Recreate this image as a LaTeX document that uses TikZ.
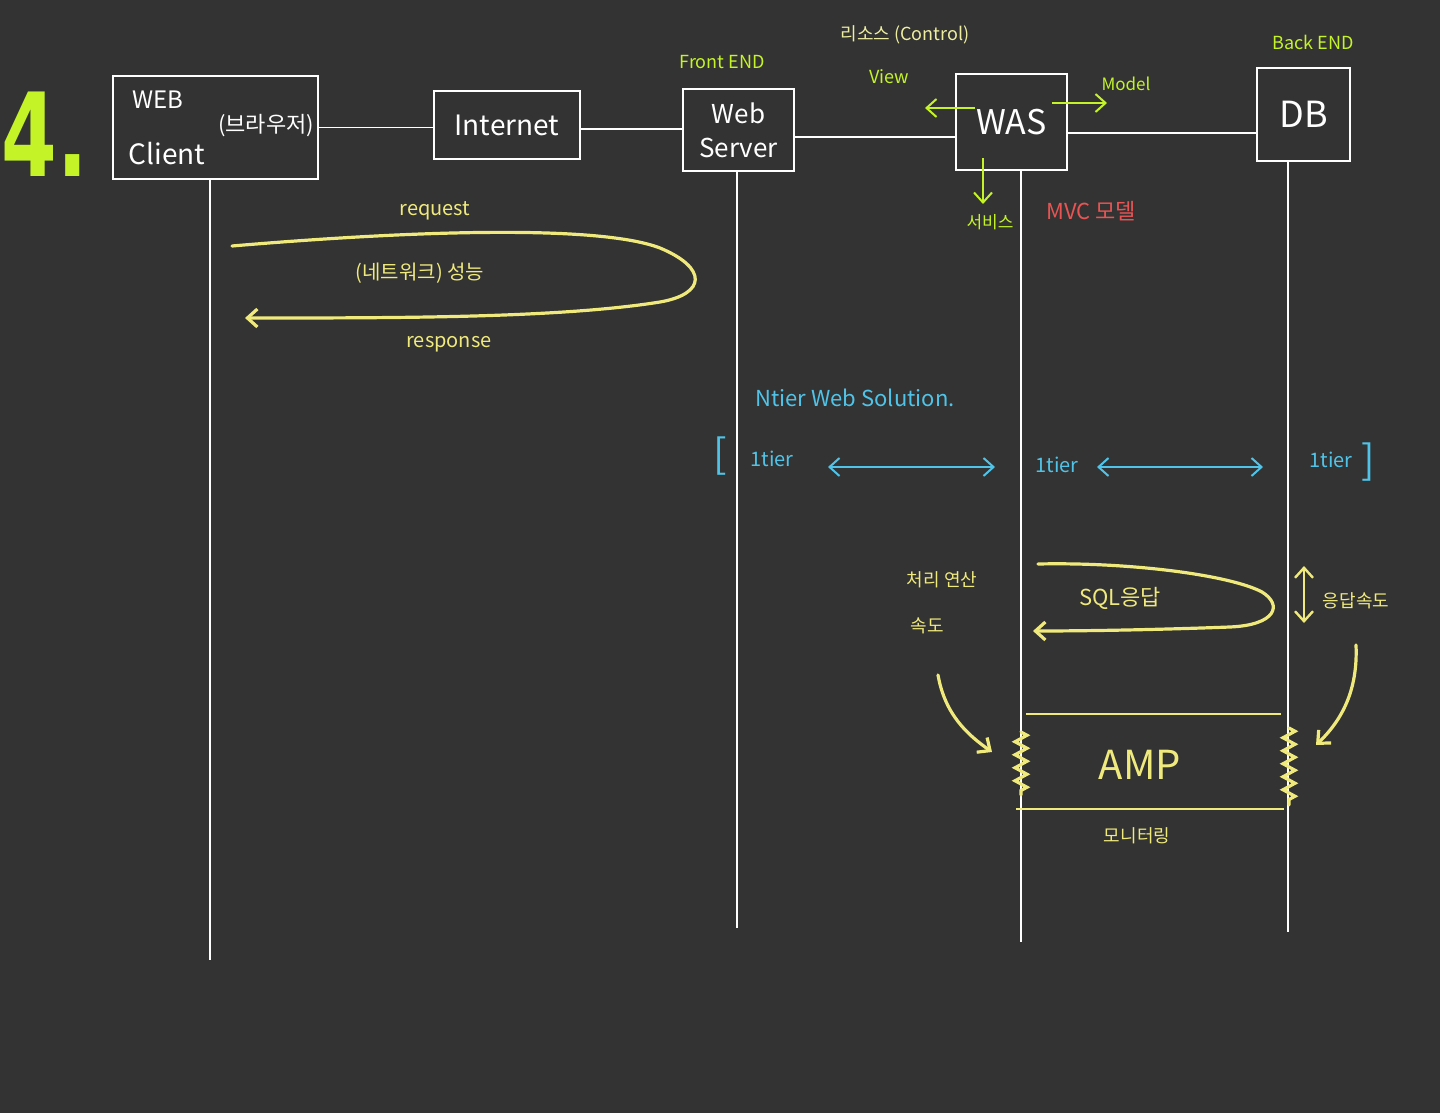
\documentclass[tikz,border=0pt]{standalone}
\usepackage{graphicx}
\usepackage{fontspec}
\setmainfont{Noto Sans CJK KR}
\newfontfamily\numfont{DejaVu Sans}
\usetikzlibrary{arrows.meta}
\usetikzlibrary{decorations.pathmorphing}

\definecolor{bgdark}{RGB}{51,51,51}
\definecolor{limegreen}{RGB}{196,244,40}
\definecolor{handyellow}{RGB}{240,234,125}
\definecolor{paleyellow}{RGB}{238,238,160}
\definecolor{tierblue}{RGB}{80,196,232}
\definecolor{mvcred}{RGB}{232,84,84}

\tikzset{
  box/.style={draw=white,line width=1pt,text=white,inner sep=0pt,align=center},
  wire/.style={white,line width=0.9pt},
  life/.style={white,line width=0.8pt},
  hand/.style={handyellow,line width=1.6pt,line cap=round},
  greenarrow/.style={limegreen,line width=1pt,->},
  tierarrow/.style={tierblue,line width=1pt,<->},
  spring/.style={hand,decorate,decoration={zigzag,segment length=6.5pt,amplitude=3pt}},
}

\begin{document}
\begin{tikzpicture}[x=0.5pt,y=-0.5pt,>={Straight Barb[length=5pt,width=9pt]}]
        % 배경
        \fill[bgdark] (0,0) rectangle (1440,1113);
        \useasboundingbox (0,0) rectangle (1440,1113);

        %------------------
        % 박스
        %------------------
        \node[limegreen,inner sep=0pt,font=\numfont\bfseries\fontsize{40}{44}\selectfont] (four) at (45,134) {\scalebox{1}[1.45]{4.}};

        \node[box,minimum width=102.5pt,minimum height=51.5pt] (client) at (215.5,127.5) {};
        \node[white,inner sep=0pt,font=\fontsize{12}{14}\selectfont] (clientA) at (158,100) {WEB};
        \node[white,inner sep=0pt,font=\fontsize{14}{16}\selectfont] (clientB) at (167,154) {Client};
        \node[white,inner sep=0pt,font=\fontsize{11}{13}\selectfont] (clientC) at (266,126) {(브라우저)};

        \node[box,minimum width=73pt,minimum height=34pt,font=\fontsize{14}{16}\selectfont] (internet) at (507,125) {Internet};
        \node[box,minimum width=55.5pt,minimum height=41pt,font=\fontsize{13}{17}\selectfont] (websrv) at (738.5,130) {Web\\Server};
        \node[box,minimum width=55.5pt,minimum height=48pt,font=\fontsize{17}{19}\selectfont] (was) at (1011.5,122) {WAS};
        \node[box,minimum width=46.5pt,minimum height=46.5pt,font=\fontsize{18}{20}\selectfont] (db) at (1303.5,114.5) {DB};

        % 연결선
        \draw[wire] (client.east) -- (client.east -| internet.west);
        \draw[wire] (internet.-3) -- (internet.-3 -| websrv.west);
        \draw[wire] (websrv.-7) -- (websrv.-7 -| was.west);
        \draw[wire] (was.-11) -- (was.-11 -| db.west);

        % 세로선
        \coordinate (clientend) at (210,960);
        \coordinate (websrvend) at (737,928);
        \coordinate (wasend) at (1021,942);
        \coordinate (dbend) at (1288,932);
        \draw[life] (client.south -| clientend) -- (clientend);
        \draw[life] (websrv.south -| websrvend) -- (websrvend);
        \draw[life] (was.south -| wasend) -- (wasend);
        \draw[life] (db.south -| dbend) -- (dbend);

        %------------------
        % 위쪽 라벨
        %------------------
        \node[limegreen,font=\fontsize{9}{11}\selectfont] (front) at (722,62) {Front END};
        \node[limegreen,font=\fontsize{9}{11}\selectfont] (back) at (1313,42) {Back END};
        \node[paleyellow,font=\fontsize{9}{11}\selectfont] (control) at (905,35) {리소스 (Control)};
        \node[limegreen,font=\fontsize{9}{11}\selectfont] (view) at (889,77) {View};
        \node[limegreen,font=\fontsize{8.5}{10}\selectfont] (model) at (1126,84) {Model};
        \node[limegreen,font=\fontsize{8.5}{10}\selectfont] (service) at (990,222) {서비스};
        \node[mvcred,font=\fontsize{11}{13}\selectfont] (mvc) at (1091,211) {MVC 모델};

        \coordinate (viewfrom) at (975,108);
        \coordinate (viewto) at (925,108);
        \coordinate (modelfrom) at (1052,103);
        \coordinate (modelto) at (1107,103);
        \coordinate (servfrom) at (983,158);
        \coordinate (servto) at (983,204);
        \draw[greenarrow] (viewfrom) -- (viewto);
        \draw[greenarrow] (modelfrom) -- (modelto);
        \draw[greenarrow] (servfrom) -- (servto);

        %------------------
        % request / response
        %------------------
        \node[handyellow,font=\fontsize{10}{12}\selectfont] (request) at (435,211) {request};
        \node[handyellow,font=\fontsize{10}{12}\selectfont] (network) at (420,273) {(네트워크) 성능};
        \node[handyellow,font=\fontsize{10}{12}\selectfont] (response) at (449,344) {response};
        \draw[hand,->] (232,246) .. controls (420,230) and (600,225) .. (660,248)
          .. controls (708,268) and (706,294) .. (660,302)
          .. controls (560,318) and (400,318) .. (245,318);

        %------------------
        % N tier
        %------------------
        \node[tierblue,font=\fontsize{11}{13}\selectfont] (ntier) at (855,398) {Ntier Web Solution.};
        \node[tierblue,font=\fontsize{20}{22}\selectfont] (lbrack) at (720,456) {[};
        \node[tierblue,font=\fontsize{10}{12}\selectfont] (tierA) at (772,459) {1tier};
        \node[tierblue,font=\fontsize{10}{12}\selectfont] (tierB) at (1057,465) {1tier};
        \node[tierblue,font=\fontsize{10}{12}\selectfont] (tierC) at (1331,460) {1tier};
        \node[tierblue,font=\fontsize{20}{22}\selectfont] (rbrack) at (1368,462) {]};
        \coordinate (tierAB1) at (828,467);
        \coordinate (tierAB2) at (995,467);
        \coordinate (tierBC1) at (1097,467);
        \coordinate (tierBC2) at (1263,467);
        \draw[tierarrow] (tierAB1) -- (tierAB2);
        \draw[tierarrow] (tierBC1) -- (tierBC2);

        %------------------
        % SQL 응답 / AMP
        %------------------
        \node[handyellow,font=\fontsize{9}{11}\selectfont] (calc) at (942,580) {처리 연산};
        \node[handyellow,font=\fontsize{9}{11}\selectfont] (calcspeed) at (927,626) {속도};
        \node[handyellow,font=\fontsize{11}{13}\selectfont] (sql) at (1120,598) {SQL응답};
        \node[handyellow,font=\fontsize{9}{11}\selectfont] (respspeed) at (1356,601) {응답속도};
        \node[handyellow,font=\fontsize{20}{22}\selectfont] (amp) at (1140,765) {AMP};
        \node[handyellow,font=\fontsize{9}{11}\selectfont] (monitor) at (1137,836) {모니터링};

        \draw[hand,->] (1038,564) .. controls (1130,562) and (1230,575) .. (1262,592)
          .. controls (1283,605) and (1276,625) .. (1230,627)
          .. controls (1150,630) and (1080,631) .. (1033,631);
        \draw[hand,line width=1.2pt,<->] (1304,566) -- (1304,623);
        \draw[hand,->] (938,675) .. controls (945,715) and (968,735) .. (992,752);
        \draw[hand,->] (1356,645) .. controls (1358,690) and (1342,720) .. (1316,745);

        \draw[handyellow,line width=1.1pt] (1026,714) -- (1281,714);
        \draw[handyellow,line width=1.1pt] (1016,809) -- (1284,809);
        \draw[spring] (1021,732) -- (1021,795);
        \draw[spring] (1289,728) -- (1289,805);
      \end{tikzpicture}
\end{document}
